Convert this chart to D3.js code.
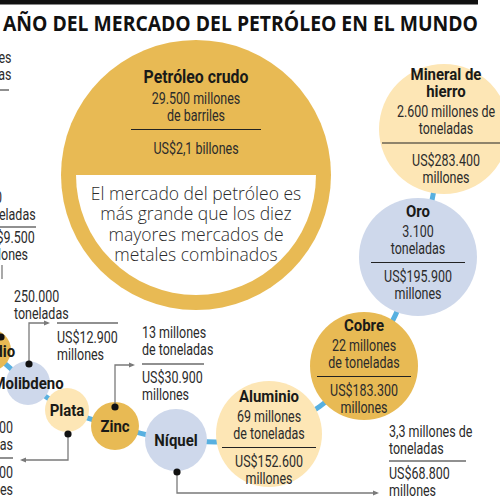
<!DOCTYPE html>
<html><head><meta charset="utf-8">
<script src="https://cdn.jsdelivr.net/npm/d3@7"></script>
<style>html,body{margin:0;padding:0;background:#fff;overflow:hidden}</style>
</head><body><svg id="c" width="500" height="500"></svg>
<script>
// ---------- DATA ----------
const title = "AÑO DEL MERCADO DEL PETRÓLEO EN EL MUNDO";
const metals = ["Petróleo crudo","Mineral de hierro","Oro","Cobre","Aluminio","Níquel","Zinc","Plata","Molibdeno","Paladio"];
const nameLines = [["Petróleo crudo"],["Mineral de","hierro"],["Oro"],["Cobre"],["Aluminio"],["Níquel"],["Zinc"],["Plata"],["Molibdeno"],["Paladio"]];
const quantityLines = [
  ["29.500 millones","de barriles"],
  ["2.600 millones de","toneladas"],
  ["3.100","toneladas"],
  ["22 millones","de toneladas"],
  ["69 millones","de toneladas"],
  ["3,3 millones de","toneladas"],
  ["13 millones","de toneladas"],
  ["27.000","toneladas"],
  ["250.000","toneladas"],
  ["200","toneladas"]
];
const marketValues = [2100000, 283400, 195900, 183300, 152600, 68800, 30900, 15800, 12900, 9500]; // US$ millones
const noteText = ["El mercado del petróleo es","más grande que los diez","mayores mercados de","metales combinados"];
const offChartQuantity = ["6 millones","de onzas"]; // metal cut off at the left edge

// ---------- LAYOUT ----------
const circleLayout = [
  {cx:196, cy:175, r:135, ty:83, rule:130, valGap:24, nameSize:18},
  {cx:444, cy:129, r:65, tx:446, ty:80, rule:128, valGap:23, ruleGap:9},
  {cx:418, cy:257, r:59, ty:217, rule:94},
  {cx:364, cy:366, r:54, ty:331, rule:94},
  {cx:269, cy:434, r:53, ty:402, rule:94},
  {cx:176, cy:440, r:31, ty:446},
  {cx:115, cy:426, r:24, ty:432},
  {cx:67,  cy:410, r:22, ty:416},
  {cx:28,  cy:383, r:22, ty:389},
  {cx:-10, cy:350, r:21, ty:357}
];
const annotLayout = {
  5: {qx:389, qy:437, vx:389, vy:479, ry:461, r0:389, r1:466, anchor:"start"},
  6: {qx:142, qy:338, vx:142, vy:383, ry:364, r0:142, r1:204, anchor:"start"},
  7: {qx:13,  qy:433, vx:13,  vy:478, ry:458, r0:-60, r1:13,  anchor:"end"},
  8: {qx:14,  qy:302, vx:57,  vy:343, ry:323, r0:57,  r1:118, anchor:"start"},
  9: {qx:-19, qy:203, vx:-19, vy:243, ry:227, r0:-30, r1:36,  anchor:"start"}
};
const leaderLayout = {
  5: {dx:1,  dy:32,  turn:493, end:377},
  6: {dx:0,  dy:-19, turn:365, end:133},
  7: {dx:1,  dy:24,  turn:460, end:22},
  8: {dx:1,  dy:-19, turn:323, end:48},
  9: {dx:11, dy:-13, stub:[[2,279],[2,265]]}
};

const GOLD="#e8ba54", BLUE="#ced8eb", CREAM="#fde6b5", LINK="#58b0e0", INK="#1a1a18", TXT="#2b2b2b", LEAD="#7a7a7a";
const fillScale = d3.scaleOrdinal().domain([0,1,2]).range([GOLD, BLUE, CREAM]);

const loc = d3.formatLocale({decimal:",", thousands:".", grouping:[3], currency:["US$",""]});
const fmtM = loc.format("$,.0f"), fmtB = loc.format("$,.1f");
function valueLines(v){ return v >= 1e6 ? [fmtB(v/1e6)+" billones"] : [fmtM(v),"millones"]; }

const svg = d3.select("#c");
const COND = "Roboto, 'Liberation Sans', Arial, sans-serif";
function label(g, x, y, s, o){
  return g.append("text")
    .attr("transform", `translate(${x},${y}) scale(${o.sx||0.78},1)`)
    .attr("text-anchor", o.anchor||"middle")
    .attr("font-family", COND)
    .attr("font-size", o.size||16)
    .attr("font-weight", o.weight||400)
    .attr("fill", o.fill||TXT)
    .text(s);
}

// top bar + title
svg.append("rect").attr("x",0).attr("y",0).attr("width",478).attr("height",4.5).attr("fill","#111");
svg.append("text").attr("x",3).attr("y",31)
  .attr("font-family","'Open Sans', 'Noto Sans', sans-serif").attr("font-weight",700)
  .attr("font-size",21).attr("fill","#111")
  .attr("textLength",475).attr("lengthAdjust","spacingAndGlyphs").text(title);

// chain connector (from Paladio to Mineral de hierro)
const chain = d3.range(metals.length-1, 0, -1);
const linkLine = d3.line().x(i=>circleLayout[i].cx).y(i=>circleLayout[i].cy).curve(d3.curveCatmullRom.alpha(0.5));
svg.append("path").attr("d", linkLine(chain)).attr("fill","none").attr("stroke",LINK).attr("stroke-width",5);

// circles
svg.append("g").selectAll("circle").data(metals).join("circle")
  .attr("cx",(d,i)=>circleLayout[i].cx).attr("cy",(d,i)=>circleLayout[i].cy).attr("r",(d,i)=>circleLayout[i].r)
  .attr("fill",(d,i)=> i===0 ? GOLD : fillScale((metals.length-1-i)%3));

// white note area inside the big circle
const big = circleLayout[0];
svg.append("clipPath").attr("id","inner").append("circle").attr("cx",big.cx).attr("cy",big.cy).attr("r",120);
svg.append("rect").attr("x",big.cx-125).attr("y",big.cy).attr("width",250).attr("height",130)
  .attr("fill","#fff").attr("clip-path","url(#inner)");
svg.append("g").selectAll("text").data(noteText).join("text")
  .attr("x",big.cx).attr("y",(d,i)=>200+i*20.3)
  .attr("text-anchor","middle").attr("font-family","'Open Sans', 'Noto Sans', sans-serif")
  .attr("font-weight",300).attr("font-size",17.5).attr("fill","#2b2b2b").text(d=>d);

// text blocks
const tg = svg.append("g");
metals.forEach((m,i)=>{
  const L = circleLayout[i];
  const tx = L.tx!=null ? L.tx : L.cx;
  let y = L.ty;
  nameLines[i].forEach((s,k)=>{ if(k>0) y+=17; label(tg, tx, y, s, {weight:700, size:L.nameSize||17, sx:0.88, fill:INK}); });
  if (L.rule){
    y += (i===0?21:20);
    quantityLines[i].forEach((s,k)=>{ if(k>0) y+=17; label(tg, tx, y, s, {}); });
    y += (L.ruleGap||8.5);
    tg.append("line").attr("x1",tx-L.rule/2).attr("x2",tx+L.rule/2).attr("y1",y).attr("y2",y).attr("stroke","#222").attr("stroke-width",1.2);
    y += (L.valGap||19.5);
    valueLines(marketValues[i]).forEach((s,k)=>{ if(k>0) y+=17; label(tg, tx, y, s, {}); });
  }
});

// external annotations
Object.keys(annotLayout).forEach(key=>{
  const i=+key, A=annotLayout[key];
  quantityLines[i].forEach((s,k)=>label(tg, A.qx, A.qy+k*16.5, s, {anchor:A.anchor}));
  tg.append("line").attr("x1",A.r0).attr("x2",A.r1).attr("y1",A.ry).attr("y2",A.ry).attr("stroke","#222").attr("stroke-width",1.2);
  valueLines(marketValues[i]).forEach((s,k)=>label(tg, A.vx, A.vy+k*16.5, s, {anchor:A.anchor}));
});
// off-chart metal at the top-left edge
offChartQuantity.forEach((s,k)=>label(tg, 11.5, 63+k*17, s, {anchor:"end"}));
tg.append("line").attr("x1",-40).attr("x2",9).attr("y1",90).attr("y2",90).attr("stroke","#222").attr("stroke-width",1.2);

// leaders with dots and arrows
const lg = svg.append("g");
Object.keys(leaderLayout).forEach(key=>{
  const i=+key, Ld=leaderLayout[key], C=circleLayout[i];
  const x0=C.cx+Ld.dx, y0=C.cy+Ld.dy;
  if (Ld.turn!=null){
    lg.append("path").attr("d",`M${x0},${y0}V${Ld.turn}H${Ld.end}`).attr("fill","none").attr("stroke",LEAD).attr("stroke-width",1.3);
    const dir = Ld.end > x0 ? 1 : -1;
    lg.append("path").attr("d",`M${Ld.end+dir*2},${Ld.turn}L${Ld.end-dir*4},${Ld.turn-2.6}L${Ld.end-dir*4},${Ld.turn+2.6}Z`).attr("fill",LEAD);
  }
  if (Ld.stub){
    lg.append("path").attr("d", d3.line()(Ld.stub)).attr("stroke",LEAD).attr("stroke-width",1.3).attr("fill","none");
  }
  lg.append("circle").attr("cx",x0).attr("cy",y0).attr("r",3.6).attr("fill","#111");
});
</script>
</body></html>
